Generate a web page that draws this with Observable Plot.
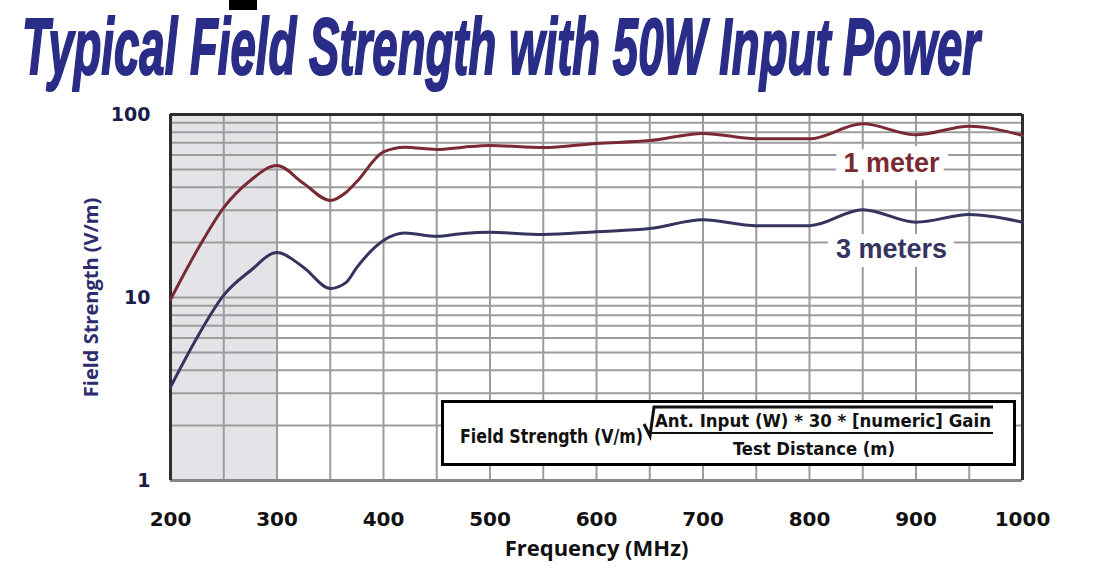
<!DOCTYPE html>
<html>
<head>
<meta charset="utf-8">
<script src="https://cdn.jsdelivr.net/npm/d3@7"></script>
<script src="https://cdn.jsdelivr.net/npm/@observablehq/plot@0.6"></script>
<style>
  html, body { margin: 0; padding: 0; background: #fff; }
  body { width: 1099px; height: 578px; overflow: hidden; position: relative; font-family: "Liberation Sans", Arial, sans-serif; }
  #titlebox { position: relative; height: 95px; }
  #title { position: absolute; left: 22px; top: 0; margin: 0; white-space: nowrap; font-family: "Liberation Sans", Arial, sans-serif;
           font-size: 50px; line-height: normal; font-weight: bold; font-style: italic; color: #2a2d87; -webkit-text-stroke: 1.3px #2a2d87;
           transform-origin: 0 0; }
  #chart svg { display: block; }
  #formula { position: absolute; left: 441px; top: 400px; width: 569px; height: 60px; border: 3px solid #000; background: #fff; }
  #formula svg { display: block; }
  #blot { position: absolute; left: 229px; top: 0; width: 28px; height: 10px; background: #000; }
</style>
</head>
<body>
<div id="titlebox"><h1 id="title">Typical Field Strength with 50W Input Power</h1></div>
<div id="blot"></div>
<div id="chart"></div>
<div id="formula">
  <svg width="569" height="60">
    <g font-family="Liberation Sans Narrow, DejaVu Sans Condensed, Open Sans, sans-serif" font-weight="bold" fill="#111">
      <text x="16" y="40" textLength="183" lengthAdjust="spacingAndGlyphs" font-size="20">Field Strength (V/m)</text>
      <text x="211" y="24" textLength="336" lengthAdjust="spacingAndGlyphs" font-size="18">Ant. Input (W) * 30 * [numeric] Gain</text>
      <text x="289" y="52" textLength="162" lengthAdjust="spacingAndGlyphs" font-size="18">Test Distance (m)</text>
    </g>
    <polyline points="200,21 206,33 210,4 549,4" fill="none" stroke="#111" stroke-width="3" stroke-linejoin="miter"/>
    <line x1="204" y1="30" x2="549" y2="30" stroke="#111" stroke-width="2"/>
  </svg>
</div>
<script>
// ---- data ----
const freqMHz     = [200, 225, 250, 275, 300, 325, 350, 365, 375, 400, 420, 450, 475, 500, 550, 600, 650, 700, 750, 800, 850, 900, 950, 1000];
const oneMeter    = [9.75, 18.1, 31, 43.6, 52.6, 42, 33.9, 37.6, 43, 62.5, 66.3, 64.4, 66.3, 67.7, 66, 69.5, 72, 78.8, 73.7, 73.7, 89, 77.4, 86.3, 76.8];
const threeMeters = [3.24, 6.05, 10.3, 14, 17.6, 14.6, 11.2, 12.1, 14.6, 20.5, 22.5, 21.6, 22.4, 22.7, 22.1, 22.9, 23.8, 26.6, 24.7, 24.7, 30.2, 25.8, 28.4, 25.8];
const seriesNames = ["1 meter", "3 meters"];
const labelFreq   = [877, 877];
const labelValue  = [54, 18.3];
const xTicks      = [200, 300, 400, 500, 600, 700, 800, 900, 1000];
const yTicks      = [1, 10, 100];
const xGrid       = [250, 300, 350, 400, 450, 500, 550, 600, 650, 700, 750, 800, 850, 900, 950];
const yGrid       = [2, 3, 4, 5, 6, 7, 8, 9, 10, 20, 30, 40, 50, 60, 70, 80, 90];
const shadedRange = [200, 300];
const xTitle = "Frequency (MHz)";
const yTitle = "Field Strength (V/m)";

// fit the condensed title to the reference width and cap height
const titleEl = document.getElementById("title");
const natural = titleEl.getBoundingClientRect().width;
titleEl.style.transform = `scale(${958 / natural}, 1.6)`;

const rows = freqMHz.flatMap((f, i) => [
  {f, v: oneMeter[i], s: seriesNames[0]},
  {f, v: threeMeters[i], s: seriesNames[1]}
]);
const labelRows = seriesNames.map((s, i) => ({s, f: labelFreq[i], v: labelValue[i]}));

const chart = Plot.plot({
  width: 1099,
  height: 483,
  marginTop: 19,
  marginBottom: 98,
  marginLeft: 170,
  marginRight: 77,
  x: {type: "linear", domain: [200, 1000]},
  y: {type: "log", domain: [1, 100]},
  color: {domain: seriesNames, range: ["#7a2a34", "#34345f"]},
  marks: [
    Plot.rect([shadedRange], {x1: d => d[0], x2: d => d[1], y1: () => 1, y2: () => 100, fill: "#e4e4e8"}),
    Plot.ruleX(xGrid, {stroke: "#9c9c9c", strokeWidth: 2}),
    Plot.ruleY(yGrid, {stroke: "#9c9c9c", strokeWidth: 2}),
    Plot.ruleY([1], {stroke: "#858585", strokeWidth: 3}),
    Plot.ruleY([100], {stroke: "#2e2e2e", strokeWidth: 3}),
    Plot.ruleX([200, 1000], {stroke: "#2e2e2e", strokeWidth: 3}),
    Plot.line(rows, {x: "f", y: "v", z: "s", stroke: "s", strokeWidth: 3, curve: "monotone-x"}),
    Plot.text(labelRows, {x: "f", y: "v", text: "s", fill: "s", stroke: "white", strokeWidth: 18, paintOrder: "stroke", strokeLinejoin: "round",
      fontSize: 27, fontWeight: "bold", fontFamily: "Liberation Sans, Arial, sans-serif"}),
    Plot.axisX({ticks: xTicks, tickSize: 0, tickPadding: 31, label: null, tickFormat: d => String(d),
      fontSize: 20, fontWeight: "bold", fontFamily: "DejaVu Sans, sans-serif", color: "#111"}),
    Plot.axisY({ticks: yTicks, tickSize: 0, tickPadding: 20, label: null, tickFormat: d => String(d),
      fontSize: 19, fontWeight: "bold", fontFamily: "DejaVu Sans, sans-serif", color: "#1c1c4c"}),
    Plot.text([xTitle], {text: d => d, frameAnchor: "bottom", dy: 75, fontSize: 22, fontWeight: "bold", fontFamily: "Open Sans, sans-serif", fill: "#111"}),
    Plot.text([yTitle], {text: d => d, frameAnchor: "left", textAnchor: "middle", rotate: -90, dx: -79, fontSize: 20, fontWeight: "bold", fontFamily: "Open Sans, sans-serif", fill: "#2b2d6e"})
  ]
});
document.getElementById("chart").appendChild(chart);
</script>
</body>
</html>
